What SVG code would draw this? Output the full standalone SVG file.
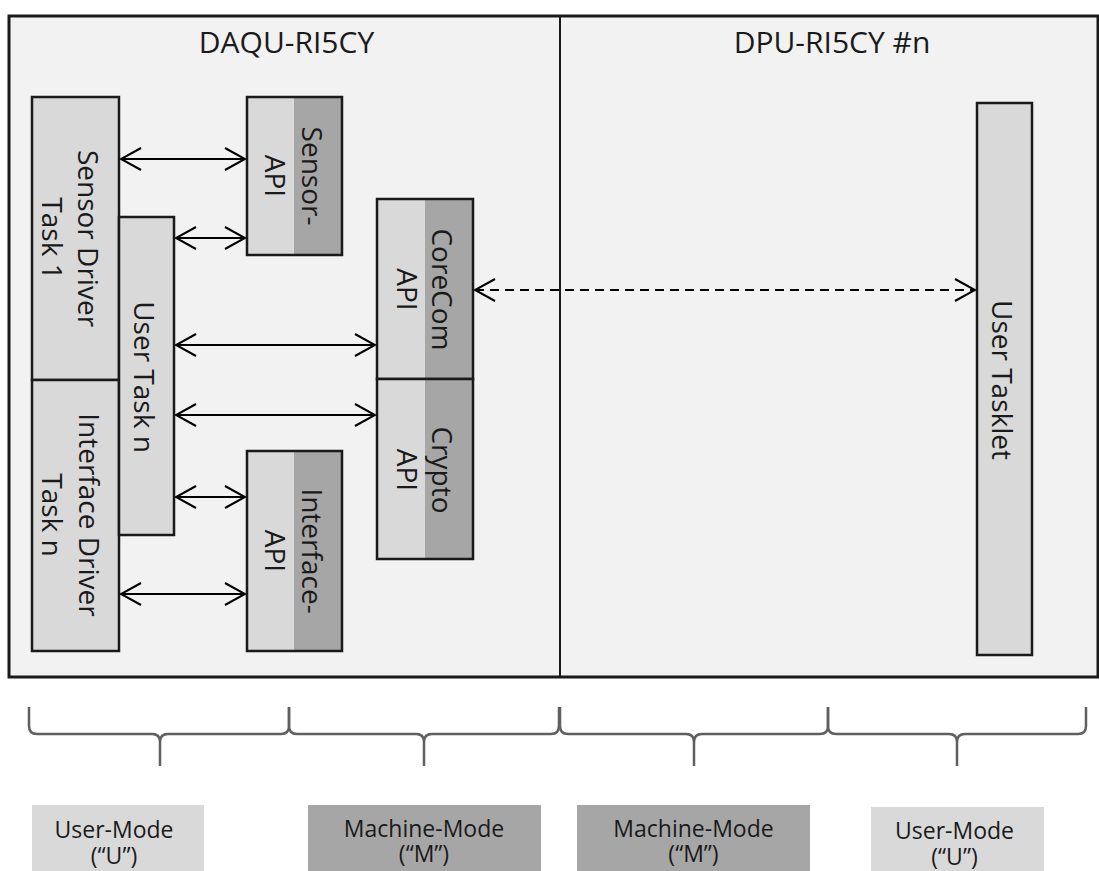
<svg xmlns="http://www.w3.org/2000/svg" width="1099" height="871" viewBox="0 0 1099 871">
  <defs>
    <style>
      .txt { font-family: "Open Sans", "Noto Sans", "DejaVu Sans", sans-serif; fill: #1a1a1a; }
      .title { font-size: 30px; text-anchor: middle; }
      .lbl { font-size: 28px; text-anchor: middle; }
      .mode { font-size: 23px; text-anchor: middle; }
      .box { fill: #d9d9d9; stroke: #1a1a1a; stroke-width: 2.5; }
      .api { fill: url(#split); stroke: #1a1a1a; stroke-width: 2.5; }
      .conn { fill: none; stroke: #000; stroke-width: 2; marker-start: url(#arr); marker-end: url(#arr); }
      .dash { stroke-dasharray: 9 6; }
      .brace { fill: none; stroke: #5f5f5f; stroke-width: 2.5; stroke-linejoin: round; }
      .mlight { fill: #d9d9d9; }
      .mdark { fill: #a6a6a6; }
    </style>
    <linearGradient id="split" x1="0" y1="0" x2="1" y2="0">
      <stop offset="0.5" stop-color="#d9d9d9"/>
      <stop offset="0.5" stop-color="#a6a6a6"/>
    </linearGradient>
    <marker id="arr" viewBox="-22 -13 24 26" refX="0" refY="0" markerWidth="24" markerHeight="26" markerUnits="userSpaceOnUse" orient="auto-start-reverse">
      <path d="M-20,-11 L0,0 L-20,11" fill="none" stroke="#000" stroke-width="2"/>
    </marker>
  </defs>

  <rect x="0" y="0" width="1099" height="871" fill="#ffffff"/>

  <g id="frame">
    <rect x="9" y="16" width="1089" height="661" fill="#f2f2f2" stroke="#1a1a1a" stroke-width="3"/>
    <line x1="560" y1="16" x2="560" y2="677" stroke="#1a1a1a" stroke-width="2"/>
    <text class="txt title" x="286.5" y="53">DAQU-RI5CY</text>
    <text class="txt title" x="832" y="53">DPU-RI5CY #n</text>
  </g>

  <g id="node-sensor-driver">
    <rect class="box" x="32" y="97" width="87" height="283"/>
    <text class="txt lbl" transform="translate(78,238.5) rotate(90)"><tspan x="0" y="0">Sensor Driver</tspan><tspan x="0" dy="36">Task 1</tspan></text>
  </g>
  <g id="node-interface-driver">
    <rect class="box" x="32" y="380" width="87" height="271"/>
    <text class="txt lbl" transform="translate(79,515) rotate(90)"><tspan x="0" y="0">Interface Driver</tspan><tspan x="0" dy="37">Task n</tspan></text>
  </g>
  <g id="node-user-task">
    <rect class="box" x="119" y="217" width="55" height="318"/>
    <text class="txt lbl" transform="translate(134,377) rotate(90)">User Task n</text>
  </g>
  <g id="node-sensor-api">
    <rect class="api" x="247" y="97" width="95" height="158"/>
    <text class="txt lbl" transform="translate(302,176) rotate(90)"><tspan x="0" y="0">Sensor-</tspan><tspan x="0" dy="37">API</tspan></text>
  </g>
  <g id="node-interface-api">
    <rect class="api" x="247" y="451" width="95" height="200"/>
    <text class="txt lbl" transform="translate(302,551) rotate(90)"><tspan x="0" y="0">Interface-</tspan><tspan x="0" dy="37">API</tspan></text>
  </g>
  <g id="node-corecom-api">
    <rect class="api" x="377" y="199" width="96" height="180"/>
    <text class="txt lbl" transform="translate(432,289.5) rotate(90)"><tspan x="0" y="0">CoreCom</tspan><tspan x="0" dy="35">API</tspan></text>
  </g>
  <g id="node-crypto-api">
    <rect class="api" x="377" y="379" width="96" height="180"/>
    <text class="txt lbl" transform="translate(432,470) rotate(90)"><tspan x="0" y="0">Crypto</tspan><tspan x="0" dy="35">API</tspan></text>
  </g>
  <g id="node-user-tasklet">
    <rect class="box" x="977" y="103" width="55" height="552"/>
    <text class="txt lbl" transform="translate(992,380) rotate(90)">User Tasklet</text>
  </g>

  <g id="connectors">
    <line class="conn" x1="121" y1="159" x2="245" y2="159"/>
    <line class="conn" x1="176" y1="238" x2="245" y2="238"/>
    <line class="conn" x1="176" y1="345" x2="375" y2="345"/>
    <line class="conn" x1="176" y1="415" x2="375" y2="415"/>
    <line class="conn" x1="176" y1="497" x2="245" y2="497"/>
    <line class="conn" x1="121" y1="594" x2="245" y2="594"/>
    <line class="conn dash" x1="475" y1="290" x2="975" y2="290"/>
  </g>

  <g id="braces">
    <path class="brace" d="M29,707 V726 Q29,734 37,734 H152 Q160,734 160,742 V766 M160,742 Q160,734 168,734 H281 Q289,734 289,726 V707"/>
    <path class="brace" d="M289,707 V726 Q289,734 297,734 H416 Q424,734 424,742 V766 M424,742 Q424,734 432,734 H551 Q559,734 559,726 V707"/>
    <path class="brace" d="M560,707 V726 Q560,734 568,734 H686 Q694,734 694,742 V766 M694,742 Q694,734 702,734 H820 Q828,734 828,726 V707"/>
    <path class="brace" d="M828,707 V726 Q828,734 836,734 H949 Q957,734 957,742 V766 M957,742 Q957,734 965,734 H1078 Q1086,734 1086,726 V707"/>
  </g>

  <g id="mode-user-1">
    <rect class="mlight" x="32" y="805" width="172" height="70"/>
    <text class="txt mode" x="114" y="838">User-Mode<tspan x="114" dy="26">(“U”)</tspan></text>
  </g>
  <g id="mode-machine-1">
    <rect class="mdark" x="308" y="805" width="233" height="70"/>
    <text class="txt mode" x="424" y="837">Machine-Mode<tspan x="424" dy="25">(“M”)</tspan></text>
  </g>
  <g id="mode-machine-2">
    <rect class="mdark" x="577" y="805" width="233" height="70"/>
    <text class="txt mode" x="693.5" y="837">Machine-Mode<tspan x="693.5" dy="25">(“M”)</tspan></text>
  </g>
  <g id="mode-user-2">
    <rect class="mlight" x="871" y="807" width="173" height="70"/>
    <text class="txt mode" x="954.5" y="839">User-Mode<tspan x="954.5" dy="26">(“U”)</tspan></text>
  </g>
</svg>
